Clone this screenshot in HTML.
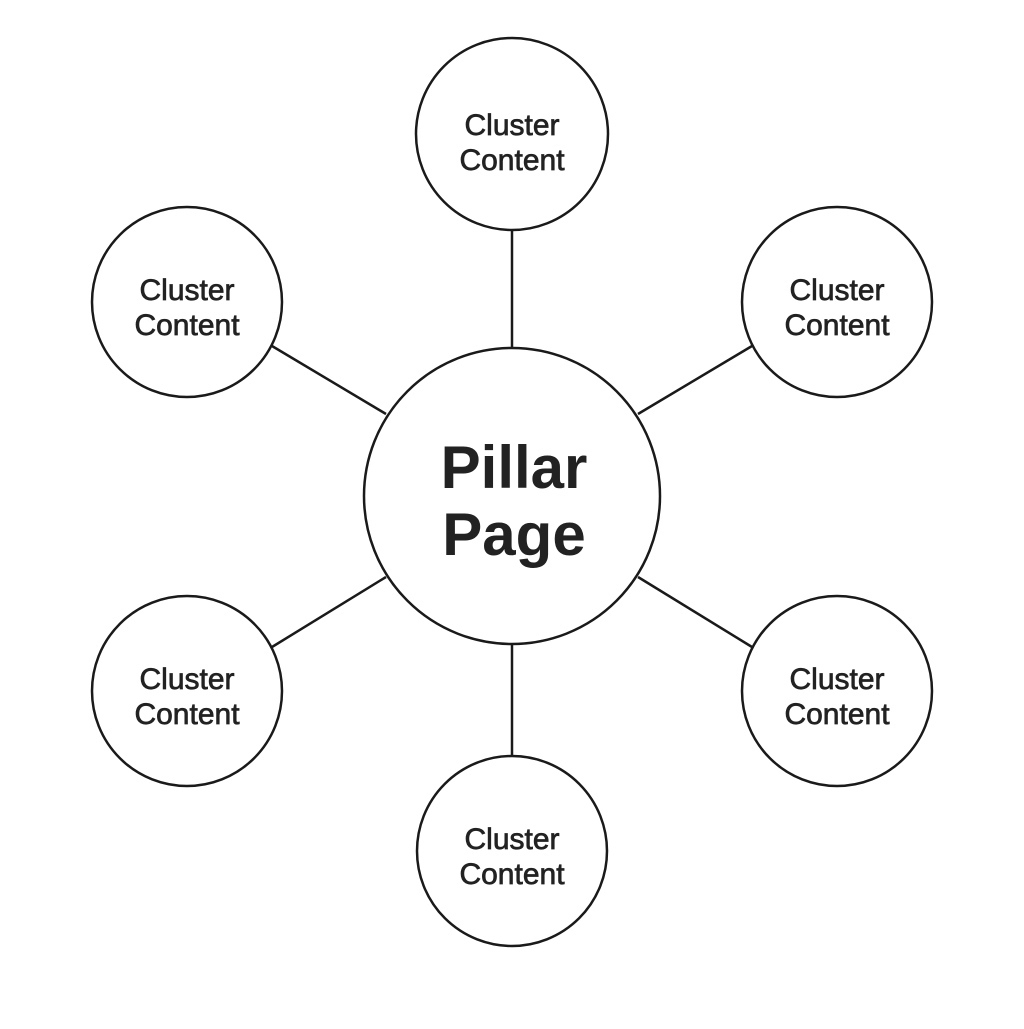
<!DOCTYPE html>
<html><head><style>
html,body{margin:0;padding:0;background:#fff;}
</style></head><body>
<svg width="1024" height="1024" viewBox="0 0 1024 1024" xmlns="http://www.w3.org/2000/svg">
<rect width="1024" height="1024" fill="#fff"/>
<g stroke="#1a1a1a" stroke-width="2.5" fill="none">
<line x1="512" y1="230" x2="512" y2="348"/>
<line x1="512" y1="645" x2="512" y2="756"/>
<line x1="272" y1="346" x2="386" y2="414"/>
<line x1="752" y1="346" x2="638" y2="414"/>
<line x1="272" y1="647" x2="386" y2="577"/>
<line x1="752" y1="647" x2="638" y2="577"/>
<circle cx="512" cy="496" r="148" fill="#fff"/>
<circle cx="512" cy="134" r="96" fill="#fff"/>
<circle cx="187" cy="302" r="95" fill="#fff"/>
<circle cx="837" cy="302" r="95" fill="#fff"/>
<circle cx="187" cy="691" r="95" fill="#fff"/>
<circle cx="837" cy="691" r="95" fill="#fff"/>
<circle cx="512" cy="851" r="95" fill="#fff"/>
</g>
<g font-family="Liberation Sans, sans-serif" fill="#222" stroke="#222" stroke-width="0.7" text-anchor="middle" font-size="30">
<text x="512" y="135">Cluster</text><text x="512" y="170">Content</text>
<text x="187" y="300">Cluster</text><text x="187" y="335">Content</text>
<text x="837" y="300">Cluster</text><text x="837" y="335">Content</text>
<text x="187" y="689">Cluster</text><text x="187" y="724">Content</text>
<text x="837" y="689">Cluster</text><text x="837" y="724">Content</text>
<text x="512" y="849">Cluster</text><text x="512" y="884">Content</text>
</g>
<g font-family="Liberation Sans, sans-serif" fill="#222" text-anchor="middle">
<text x="514" y="488" font-size="60" font-weight="bold">Pillar</text>
<text x="514" y="555" font-size="60" font-weight="bold">Page</text>
</g>
</svg>
</body></html>
